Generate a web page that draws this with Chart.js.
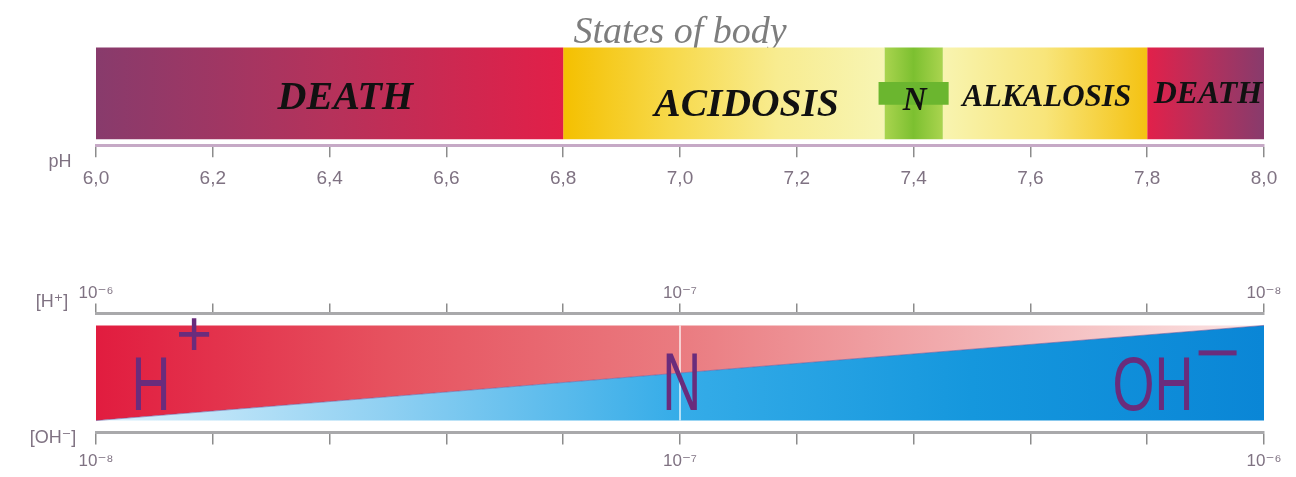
<!DOCTYPE html>
<html>
<head>
<meta charset="utf-8">
<script src="https://cdn.jsdelivr.net/npm/chart.js@4.4.1/dist/chart.umd.min.js"></script>
<style>
  body { margin: 0; background: #fff; overflow: hidden; }
  #top-box { position: absolute; left: 0; top: 0; width: 1296px; height: 211px; }
  #ion-box { position: absolute; left: 0; top: 274px; width: 1296px; height: 205px; }
</style>
</head>
<body>
<div id="top-box"><canvas id="states-chart"></canvas></div>
<div id="ion-box"><canvas id="ion-chart"></canvas></div>
<script>
// states of body along the pH scale
const stateNames = ['DEATH', 'ACIDOSIS', 'N', 'ALKALOSIS', 'DEATH'];
const stateFrom  = [6.0, 6.8, 7.35, 7.45, 7.8];
const stateTo    = [6.8, 7.35, 7.45, 7.8, 8.0];
const normalBand = [7.34, 7.46];

const phMin = 6.0;
const phMax = 8.0;
const phStep = 0.2;

// share of H+ / OH- along the same pH range
const ionPh     = [6.0, 8.0];
const ohShare   = [0, 1];
const hShare    = [1, 0];
const neutralPh = 7.0;

const hTickLabels  = { 6: '10⁻⁶', 7: '10⁻⁷', 8: '10⁻⁸' };
const ohTickLabels = { 6: '10⁻⁸', 7: '10⁻⁷', 8: '10⁻⁶' };

const stateStops = [
  ['#883b6c', '#b5325b', '#e21f48'],
  ['#f4c000', '#f7d94a', '#f8ec90', '#f7f5b4'],
  ['#aad44f', '#7cc030', '#aad44f'],
  ['#f8f4b0', '#f8e57a', '#f4c212'],
  ['#e2204a', '#b4305c', '#883b6c'],
];
const stateLabelAt   = [6.427, 7.114, 7.402, 7.628, 7.904];
const stateLabelDy   = [5, 12, 8, 5, 1];
const stateLabelSize = [40, 39.5, 33, 31, 32];

const tickColor = '#7f7282';
const sans = '"Liberation Sans", "DejaVu Sans", sans-serif';

function hGrad(chart, from, to, stops, scaleId) {
  if (!chart.chartArea) return stops[0];
  const x = chart.scales[scaleId];
  const g = chart.ctx.createLinearGradient(x.getPixelForValue(from), 0, x.getPixelForValue(to), 0);
  stops.forEach((c, i) => g.addColorStop(i / (stops.length - 1), c));
  return g;
}

const stateSets = stateNames.map((name, i) => ({
  label: name,
  data: [[stateFrom[i], stateTo[i]]],
  backgroundColor: c => hGrad(c.chart, stateFrom[i], stateTo[i], stateStops[i], 'x'),
  barPercentage: 0.886,
  categoryPercentage: 1,
  grouped: false,
  order: 2
}));
stateSets.push({
  label: 'N',
  data: [normalBand],
  backgroundColor: '#6bb62f',
  barPercentage: 0.22,
  categoryPercentage: 1,
  grouped: false,
  order: 1
});

const stateText = {
  id: 'stateText',
  afterDatasetsDraw(chart) {
    const { ctx, chartArea } = chart;
    const x = chart.scales.x;
    const mid = (chartArea.top + chartArea.bottom) / 2;
    ctx.save();
    ctx.textAlign = 'center';
    ctx.textBaseline = 'middle';
    ctx.fillStyle = '#111';
    stateNames.forEach((name, i) => {
      ctx.font = 'italic bold ' + stateLabelSize[i] + 'px "Liberation Serif", serif';
      ctx.fillText(name, x.getPixelForValue(stateLabelAt[i]), mid + stateLabelDy[i]);
    });
    ctx.fillStyle = tickColor;
    ctx.font = '18px ' + sans;
    ctx.fillText('pH', chartArea.left - 36, chartArea.bottom + 17);
    ctx.restore();
  }
};

new Chart(document.getElementById('states-chart'), {
  type: 'bar',
  data: { labels: ['pH'], datasets: stateSets },
  options: {
    indexAxis: 'y',
    responsive: true,
    maintainAspectRatio: false,
    animation: false,
    layout: { padding: { left: 96, right: 32, top: 0, bottom: 11 } },
    plugins: {
      legend: { display: false },
      tooltip: { enabled: false },
      title: {
        display: true,
        text: 'States of body',
        color: '#7d7d7d',
        font: { family: '"Liberation Serif", serif', size: 38, style: 'italic', weight: 'normal' },
        padding: { top: 10, bottom: -14 }
      }
    },
    scales: {
      y: { type: 'category', display: false },
      x: {
        type: 'linear',
        min: phMin,
        max: phMax,
        position: 'bottom',
        grid: { drawOnChartArea: false, tickLength: 12, color: '#8c8c8c', lineWidth: 1.5 },
        border: { color: '#c6a9c6', width: 3 },
        ticks: {
          stepSize: phStep,
          autoSkip: false,
          maxRotation: 0,
          padding: 10,
          color: tickColor,
          font: { family: sans, size: 19 },
          callback: v => v.toFixed(1).replace('.', ',')
        }
      }
    }
  },
  plugins: [stateText]
});

// ---- H+ / OH- chart ----
const redStops  = ['#e11c3f', '#e6525f', '#ea7b80', '#f2b0b2', '#fbe4e4'];
const blueStops = ['#dcf1fc', '#8fd0f2', '#35ace8', '#1597dd', '#0a86d6'];

function pick(map, v) {
  const k = Math.round(v);
  return Math.abs(v - k) < 1e-6 && map[k] ? map[k] : '';
}

const ionText = {
  id: 'ionText',
  afterDatasetsDraw(chart) {
    const { ctx, chartArea } = chart;
    const x = chart.scales.xh;
    const base = chartArea.top + 97;
    ctx.save();
    ctx.fillStyle = '#6a2c7c';
    ctx.textAlign = 'center';
    ctx.textBaseline = 'alphabetic';
    ctx.font = '54px ' + sans;
    const big = (t, px, py, sy) => {
      ctx.save();
      ctx.translate(px, py);
      ctx.scale(1, sy);
      ctx.fillText(t, 0, 0);
      ctx.restore();
    };
    big('H', x.getPixelForValue(6.094), base, 1.4);
    big('N', x.getPixelForValue(7.003), base, 1.5);
    big('OH', x.getPixelForValue(7.81), base, 1.4);
    ctx.font = '62px ' + sans;
    big('+', x.getPixelForValue(6.168), chartArea.top + 43, 1.05);
    ctx.fillRect(x.getPixelForValue(7.888), chartArea.top + 37, 38, 5);

    ctx.fillStyle = tickColor;
    ctx.font = '18px ' + sans;
    ctx.fillText('[H⁺]', chartArea.left - 44, chartArea.top - 6);
    ctx.fillText('[OH⁻]', chartArea.left - 43, chartArea.bottom + 10);
    ctx.restore();
  }
};

new Chart(document.getElementById('ion-chart'), {
  type: 'line',
  data: {
    datasets: [
      {
        label: 'neutral',
        data: [{ x: neutralPh, y: 0 }, { x: neutralPh, y: 1 }],
        stack: 'neutral',
        borderColor: 'rgba(255,255,255,0.85)',
        borderWidth: 1.5,
        pointRadius: 0,
        fill: false,
        xAxisID: 'xh',
        order: 0
      },
      {
        label: 'OH-',
        data: ionPh.map((p, i) => ({ x: p, y: ohShare[i] })),
        stack: 'ions',
        borderColor: 'rgba(110,80,150,0.55)',
        borderWidth: 1,
        pointRadius: 0,
        tension: 0,
        fill: 'origin',
        backgroundColor: c => hGrad(c.chart, phMin, phMax, blueStops, 'xh'),
        xAxisID: 'xh',
        order: 1
      },
      {
        label: 'H+',
        data: ionPh.map((p, i) => ({ x: p, y: hShare[i] })),
        stack: 'ions',
        borderWidth: 0,
        borderColor: 'rgba(0,0,0,0)',
        pointRadius: 0,
        tension: 0,
        fill: '-1',
        backgroundColor: c => hGrad(c.chart, phMin, phMax, redStops, 'xh'),
        xAxisID: 'xh',
        order: 2
      }
    ]
  },
  options: {
    responsive: true,
    maintainAspectRatio: false,
    animation: false,
    layout: { padding: { left: 96, right: 32, top: 9, bottom: 0 } },
    plugins: { legend: { display: false }, tooltip: { enabled: false } },
    scales: {
      y: { type: 'linear', stacked: true, min: -0.126, max: 1.126, display: false },
      xh: {
        type: 'linear',
        position: 'top',
        min: phMin,
        max: phMax,
        grid: { drawOnChartArea: false, tickLength: 10, color: '#8c8c8c', lineWidth: 1.5 },
        border: { color: '#a9a9ab', width: 3 },
        ticks: {
          stepSize: phStep,
          autoSkip: false,
          maxRotation: 0,
          padding: 0,
          color: tickColor,
          font: { family: sans, size: 17 },
          callback: v => pick(hTickLabels, v)
        }
      },
      xoh: {
        type: 'linear',
        position: 'bottom',
        min: phMin,
        max: phMax,
        grid: { drawOnChartArea: false, tickLength: 12, color: '#8c8c8c', lineWidth: 1.5 },
        border: { color: '#a9a9ab', width: 3 },
        ticks: {
          stepSize: phStep,
          autoSkip: false,
          maxRotation: 0,
          padding: 7,
          color: tickColor,
          font: { family: sans, size: 17 },
          callback: v => pick(ohTickLabels, v)
        }
      }
    }
  },
  plugins: [ionText]
});
</script>
</body>
</html>
